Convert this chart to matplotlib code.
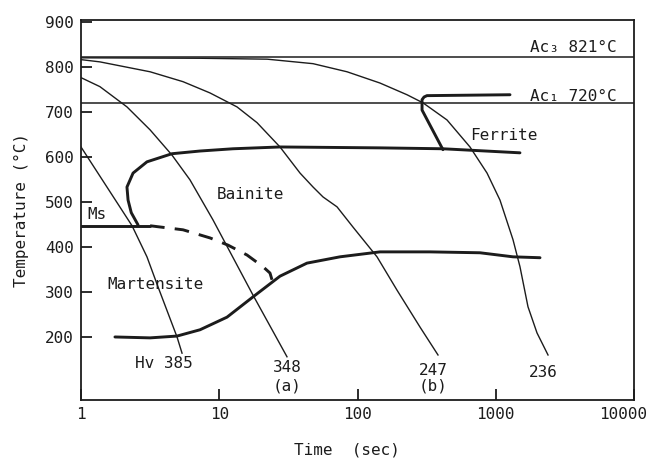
import matplotlib
matplotlib.use("Agg")
import matplotlib.pyplot as plt
from matplotlib.ticker import NullLocator
from matplotlib.transforms import ScaledTranslation

plt.rcParams['font.family'] = ['DejaVu Sans Mono', 'DejaVu Sans']

INK = '#1c1c1c'

# Critical temperatures (deg C)
ac3 = 821
ac1 = 720
ms_temp = 447

# Cooling curves: time (s) and temperature (deg C), labelled by hardness
cool_385_t = [1.0, 2.34, 3.0, 3.61, 4.95, 5.38]
cool_385_T = [622, 447, 378, 311, 200, 164]

cool_348_t = [1.0, 1.37, 2.15, 3.16, 4.55, 6.14, 9.01, 17.54, 30.9]
cool_348_T = [776, 756, 711, 660, 604, 549, 460, 293, 156]

cool_247_t = [1.0, 1.37, 3.16, 5.47, 8.57, 13.44, 18.76, 27.5, 38.4, 47.7, 56.3,
              71.1, 92.8, 138.4, 193.1, 283.2, 382.2]
cool_247_T = [816, 811, 789, 767, 742, 711, 676, 622, 564, 533, 511,
              489, 444, 378, 304, 222, 160]

cool_236_t = [1.0, 7.3, 22.2, 47.7, 84, 145.4, 228, 297.7, 444, 651, 865,
              1073, 1333, 1497, 1711, 1988, 2388]
cool_236_T = [820, 819, 817, 807, 789, 764, 738, 720, 682, 622, 564,
              504, 416, 356, 267, 209, 160]

# Transformation boundaries
ferrite_t = [1268, 318, 303, 293, 293, 415]
ferrite_T = [738, 736, 733, 727, 704, 616]

bainite_t = [2.585, 2.31, 2.19, 2.15, 2.38, 3.0, 4.55, 7.26, 12.58, 27.5, 145.4, 415, 1497]
bainite_T = [449, 476, 504, 533, 564, 589, 607, 613, 618, 622, 620, 618, 609]

ms_t = [1.0, 3.16]
ms_T = [ms_temp, ms_temp]

ms_dash_t = [3.16, 5.47, 8.57, 11.57, 15.88, 20.73, 23.28, 24.07]
ms_dash_T = [ms_temp, 438, 420, 404, 382, 356, 342, 327]

mf_t = [1.76, 3.16, 4.95, 7.26, 11.38, 17.54, 27.5, 43.1, 74.7, 145.4, 334.5, 769, 1333, 2090]
mf_T = [200, 198, 202, 216, 244, 289, 335, 364, 378, 389, 389, 387, 378, 376]

x_ticks = [1, 10, 100, 1000, 10000]
x_tick_labels = ['1', '10', '100', '1000', '10000']
y_ticks = [200, 300, 400, 500, 600, 700, 800, 900]

fig = plt.figure(figsize=(6.47, 4.63), dpi=100)
ax = fig.add_axes([81 / 647, 1 - 400 / 463, (634 - 81) / 647, (400 - 20) / 463])

ax.set_xscale('log')
ax.set_xlim(1, 10000)
ax.set_ylim(60, 904)

# Ac3 / Ac1 reference lines
ax.axhline(ac3, color=INK, lw=1.1)
ax.axhline(ac1, color=INK, lw=1.1)

# Cooling curves
for t, T in [(cool_385_t, cool_385_T), (cool_348_t, cool_348_T),
             (cool_247_t, cool_247_T), (cool_236_t, cool_236_T)]:
    ax.plot(t, T, color=INK, lw=1.0, solid_joinstyle='round')

# Phase boundaries
thick = dict(color=INK, lw=2.1, solid_capstyle='round', solid_joinstyle='round')
ax.plot(ferrite_t, ferrite_T, **thick)
ax.plot(bainite_t, bainite_T, **thick)
ax.plot(ms_t, ms_T, **thick)
ax.plot(mf_t, mf_T, **thick)
ax.plot(ms_dash_t, ms_dash_T, color=INK, lw=2.1, dashes=(5, 3.5))

# Labels
fs = 11.5
ax.text(1770, 844, 'Ac₃ 821°C', fontsize=fs, color=INK, va='center', ha='left')
ax.text(1770, 733, 'Ac₁ 720°C', fontsize=fs, color=INK, va='center', ha='left')
ax.text(651, 647, 'Ferrite', fontsize=fs, color=INK, va='center', ha='left')
ax.text(9.6, 516, 'Bainite', fontsize=fs, color=INK, va='center', ha='left')
ax.text(1.12, 471, 'Ms', fontsize=fs, color=INK, va='center', ha='left')
ax.text(1.54, 316, 'Martensite', fontsize=fs, color=INK, va='center', ha='left')
ax.text(2.46, 142, 'Hv 385', fontsize=fs, color=INK, va='center', ha='left')
ax.text(30.9, 133, '348', fontsize=fs, color=INK, va='center', ha='center')
ax.text(30.9, 91, '(a)', fontsize=fs, color=INK, va='center', ha='center')
ax.text(352, 126, '247', fontsize=fs, color=INK, va='center', ha='center')
ax.text(352, 91, '(b)', fontsize=fs, color=INK, va='center', ha='center')
ax.text(2197, 120, '236', fontsize=fs, color=INK, va='center', ha='center')

# Axes styling
for s in ax.spines.values():
    s.set_linewidth(1.3)
    s.set_color(INK)

ax.set_xticks(x_ticks)
ax.set_xticklabels(x_tick_labels)
ax.xaxis.set_minor_locator(NullLocator())
ax.set_yticks(y_ticks)
ax.tick_params(axis='both', which='major', direction='in', length=8, width=1.3,
               color=INK, labelcolor=INK, labelsize=fs, top=False, right=False)
ax.tick_params(axis='x', pad=5)
ax.tick_params(axis='y', pad=5)

# keep the last time label inside the canvas
last = ax.get_xticklabels()[-1]
last.set_transform(last.get_transform() + ScaledTranslation(-0.11, 0, fig.dpi_scale_trans))

ax.set_ylabel('Temperature (°C)', fontsize=fs, color=INK)
ax.yaxis.set_label_coords(-52 / 553, 0.5)
fig.text(347 / 647, 1 - 450 / 463, 'Time  (sec)', fontsize=fs, color=INK,
         ha='center', va='center')

fig.savefig('out.png', dpi=100)
